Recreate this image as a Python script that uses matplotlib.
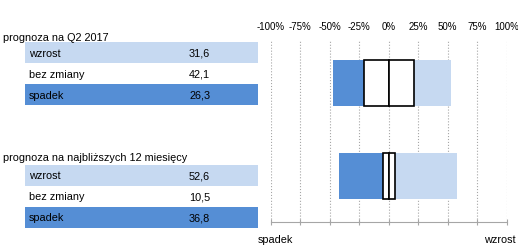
import matplotlib.pyplot as plt

plt.rcParams['font.family'] = ['Liberation Sans', 'DejaVu Sans']

# dane
titles = ['prognoza na Q2 2017', 'prognoza na najbliższych 12 miesięcy']
row_labels = ['wzrost', 'bez zmiany', 'spadek']
wzrost = [31.6, 52.6]
bez_zmiany = [42.1, 10.5]
spadek = [26.3, 36.8]
ticks = [-100, -75, -50, -25, 0, 25, 50, 75, 100]

c_dark = '#558ED5'
c_light = '#C6D9F1'
fs = 7.8

W, H = 518, 251
fig = plt.figure(figsize=(W / 100, H / 100), dpi=100)

# tabela po lewej - osie w pikselach
ax_t = fig.add_axes([0, 0, 1, 1])
ax_t.set_xlim(0, W)
ax_t.set_ylim(H, 0)
ax_t.axis('off')

row_colors = [c_light, 'white', c_dark]
block_top = [43.3, 166.0]
title_y = [38, 158]
row_h = 20.9
for b in range(2):
    vals = [wzrost[b], bez_zmiany[b], spadek[b]]
    ax_t.text(3, title_y[b], titles[b], fontsize=fs, va='center', ha='left')
    for i, (lab, v) in enumerate(zip(row_labels, vals)):
        yc = block_top[b] + row_h * (i + 0.5)
        ax_t.barh(yc, 233, left=25, height=row_h, color=row_colors[i], linewidth=0)
        ax_t.text(29, yc, lab, fontsize=fs, va='center', ha='left')
        ax_t.text(189, yc, f'{v:.1f}'.replace('.', ','), fontsize=fs, va='center', ha='left')

# wykres po prawej
x0, x1 = 270.7, 506.7
y_top, y_bot = 42, 223.3
ax = fig.add_axes([x0 / W, 1 - y_bot / H, (x1 - x0) / W, (y_bot - y_top) / H])
ax.set_xlim(-100, 100)
ax.set_ylim(1.495, -0.452)

for i in range(2):
    half = bez_zmiany[i] / 2
    ax.barh(i, -spadek[i], left=-half, height=0.5, color=c_dark, linewidth=0, zorder=3)
    ax.barh(i, wzrost[i], left=half, height=0.5, color=c_light, linewidth=0, zorder=3)
    ax.barh(i, -half, left=0, height=0.5, color='white', edgecolor='black', linewidth=1.2, zorder=4)
    ax.barh(i, half, left=0, height=0.5, color='white', edgecolor='black', linewidth=1.2, zorder=4)

ax.set_xticks(ticks)
ax.set_xticklabels([f'{t}%' for t in ticks], fontsize=7)
ax.tick_params(axis='x', top=False, labeltop=True, bottom=True, labelbottom=False,
               direction='inout', length=5, color='#A6A6A6', pad=5)
ax.set_yticks([])
ax.grid(axis='x', linestyle=':', color='#A6A6A6', linewidth=0.8, zorder=0)
for s in ['top', 'left', 'right']:
    ax.spines[s].set_visible(False)
ax.spines['bottom'].set_color('#A6A6A6')
ax.set_facecolor('none')

fig.text(258 / W, 1 - 240 / H, 'spadek', fontsize=fs, va='center', ha='left')
fig.text(516 / W, 1 - 240 / H, 'wzrost', fontsize=fs, va='center', ha='right')

fig.savefig('out.png', dpi=100)
